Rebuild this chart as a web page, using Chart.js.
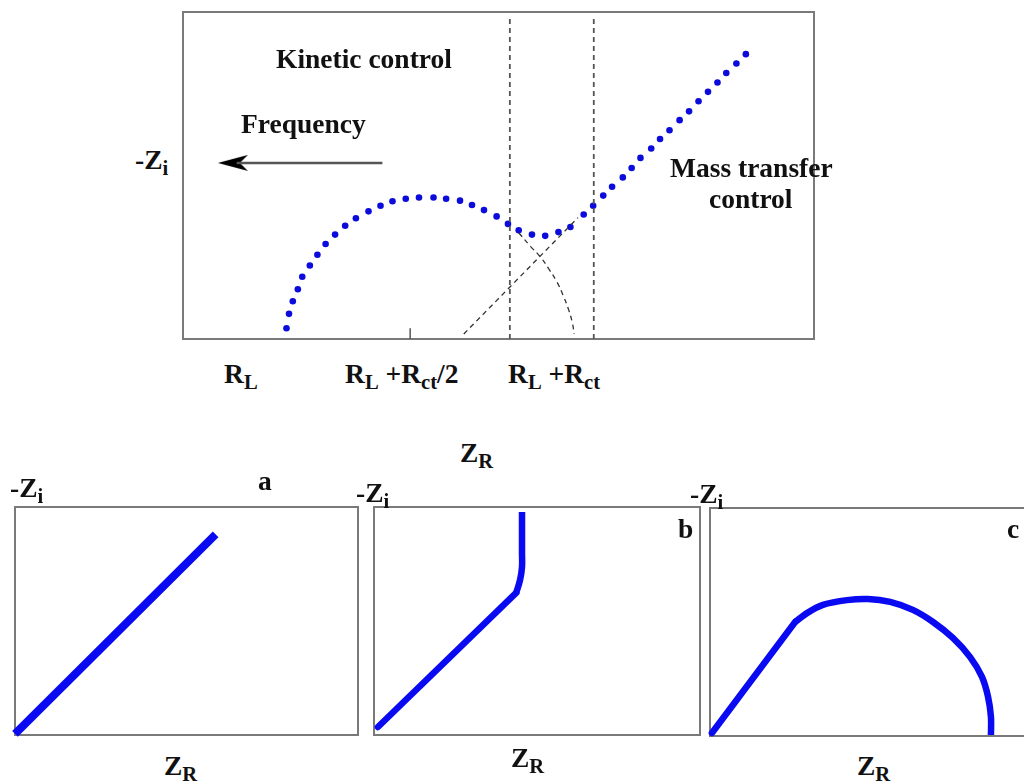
<!DOCTYPE html>
<html>
<head>
<meta charset="utf-8">
<script src="https://cdn.jsdelivr.net/npm/chart.js@4.4.1/dist/chart.umd.min.js"></script>
<style>
  body { margin: 0; width: 1024px; height: 782px; overflow: hidden; background: #fff; position: relative; }
  canvas { position: absolute; }
  .lbl { position: absolute; font: bold 27.5px "Liberation Serif", "DejaVu Serif", serif; line-height: 27px; white-space: nowrap; color: #111; }
  .s { font-size: 0.75em; position: relative; top: 0.3em; }
</style>
</head>
<body>
<canvas id="top"></canvas>
<canvas id="pa"></canvas>
<canvas id="pb"></canvas>
<canvas id="pc"></canvas>

<div class="lbl" style="left:276px;top:45px">Kinetic control</div>
<div class="lbl" style="left:241px;top:110px">Frequency</div>
<div class="lbl" style="left:670px;top:154px">Mass transfer</div>
<div class="lbl" style="left:709px;top:185px">control</div>
<div class="lbl" style="left:135px;top:146px">-Z<span class="s">i</span></div>
<div class="lbl" style="left:224px;top:360px">R<span class="s">L</span></div>
<div class="lbl" style="left:345px;top:360px">R<span class="s">L</span> +R<span class="s">ct</span>/2</div>
<div class="lbl" style="left:508px;top:360px">R<span class="s">L</span> +R<span class="s">ct</span></div>
<div class="lbl" style="left:460px;top:439px">Z<span class="s">R</span></div>

<div class="lbl" style="left:10px;top:474px">-Z<span class="s">i</span></div>
<div class="lbl" style="left:258px;top:467px">a</div>
<div class="lbl" style="left:164px;top:752px">Z<span class="s">R</span></div>
<div class="lbl" style="left:356px;top:479px">-Z<span class="s">i</span></div>
<div class="lbl" style="left:678px;top:515px">b</div>
<div class="lbl" style="left:511px;top:744px">Z<span class="s">R</span></div>
<div class="lbl" style="left:690px;top:480px">-Z<span class="s">i</span></div>
<div class="lbl" style="left:1007px;top:515px">c</div>
<div class="lbl" style="left:857px;top:752px">Z<span class="s">R</span></div>

<script>
// top Nyquist plot (x 0-100, y 0-52)
var dotX = [16.4, 16.8, 17.4, 18.2, 18.9, 20.1, 21.3, 22.6, 24.1, 25.7, 27.4, 29.4, 31.3, 33.2, 35.3, 37.4,
            39.7, 41.7, 43.9, 45.8, 47.7, 49.7, 51.5, 53.2, 55.3, 57.4, 59.5, 61.4, 63.5, 65.0, 66.6, 68.0,
            69.7, 71.1, 72.5, 74.2, 75.6, 77.1, 78.7, 80.2, 81.7, 83.2, 84.7, 86.1, 87.7, 89.2];
var dotY = [1.7, 4.0, 6.0, 7.9, 9.9, 11.7, 13.4, 15.1, 16.6, 18.0, 19.2, 20.3, 21.2, 21.9, 22.3, 22.5,
            22.5, 22.3, 22.0, 21.3, 20.5, 19.5, 18.3, 17.3, 16.6, 16.4, 17.0, 17.8, 19.8, 21.2, 22.8, 24.2,
            25.7, 27.2, 28.8, 30.3, 31.8, 33.2, 34.8, 36.2, 37.8, 39.3, 40.8, 42.3, 43.8, 45.3];
var guideX = [51.8, 65.1];
var guideTop = 51;
var tangentX = [44.5, 62.6];
var tangentY = [0.8, 19.3];
var arcTailX = [53.2, 55.1, 56.6, 58.0, 59.3, 60.3, 61.1, 61.7, 62.0];
var arcTailY = [16.9, 14.7, 13.1, 11.1, 9.0, 6.8, 4.7, 2.6, 0.8];
var tickX = 36.0;
var tickTop = 1.7;
var arrowX = [31.6, 8.5];
var arrowY = [28.0, 28.0];
var arrowHeadX = 7.9;

// small panels (x 0-100, y 0-100)
var aX = [0, 58.5];
var aY = [0.5, 88];
var bLineX = [1.2, 43.6];
var bLineY = [3.5, 62.3];
var bCurveX = [43.6, 44.8, 45.4, 45.4, 45.4];
var bCurveY = [62.3, 68.0, 73.7, 79.8, 97.8];
var cLineX = [0.6, 26.6];
var cLineY = [1.3, 50.0];
var cArcX = [26.6, 30.3, 35.3, 42.8, 49.4, 56.3, 63.4, 69.7, 75.9, 81.3, 85.0, 86.9, 87.8, 87.8];
var cArcY = [50.0, 53.9, 57.5, 59.6, 60.1, 58.8, 55.3, 50.0, 43.0, 34.6, 25.9, 17.1, 8.3, 0.4];

function pts(xs, ys) {
    return xs.map(function(x, i) { return {x: x, y: ys[i]}; });
}

var boxPlugin = {
    id: 'box',
    beforeDatasetsDraw: function(chart) {
        var a = chart.chartArea, ctx = chart.ctx;
        ctx.save();
        ctx.strokeStyle = '#7a7a7a';
        ctx.lineWidth = 2;
        ctx.strokeRect(a.left, a.top, a.right - a.left, a.bottom - a.top);
        ctx.restore();
    }
};

function makeChart(id, left, top, w, h, xmax, ymax, datasets) {
    var cv = document.getElementById(id);
    var pad = 10;
    cv.width = w + 2 * pad;
    cv.height = h + 2 * pad;
    cv.style.left = (left - pad) + 'px';
    cv.style.top = (top - pad) + 'px';
    return new Chart(cv, {
        type: 'scatter',
        data: { datasets: datasets },
        options: {
            responsive: false,
            animation: false,
            events: [],
            layout: { padding: pad },
            plugins: { legend: { display: false }, tooltip: { enabled: false } },
            scales: {
                x: { type: 'linear', min: 0, max: xmax, display: false },
                y: { type: 'linear', min: 0, max: ymax, display: false }
            }
        },
        plugins: [boxPlugin]
    });
}

function dashed(data, width, color, tension) {
    return { data: data, showLine: true, borderColor: color, borderWidth: width,
             borderDash: [5, 4], pointRadius: 0, tension: tension || 0, clip: false };
}

function solid(data, width, tension, cap) {
    return { data: data, showLine: true, borderColor: '#0a0af2', borderWidth: width,
             pointRadius: 0, tension: tension || 0, clip: false,
             borderCapStyle: cap || 'butt', borderJoinStyle: 'round' };
}

// arrow head image
var head = document.createElement('canvas');
head.width = 30; head.height = 18;
var hc = head.getContext('2d');
hc.fillStyle = '#000';
hc.beginPath();
hc.moveTo(0, 9); hc.lineTo(30, 1); hc.lineTo(22, 9); hc.lineTo(30, 17); hc.closePath();
hc.fill();

makeChart('top', 182, 11, 633, 329, 100, 52, [
    dashed(pts([guideX[0], guideX[0]], [0, guideTop]), 1.8, '#555'),
    dashed(pts([guideX[1], guideX[1]], [0, guideTop]), 1.8, '#555'),
    dashed(pts(tangentX, tangentY), 1.3, '#333'),
    dashed(pts(arcTailX, arcTailY), 1.3, '#333', 0.4),
    { data: pts([tickX, tickX], [0, tickTop]), showLine: true, borderColor: '#555', borderWidth: 1.5, pointRadius: 0, clip: false },
    { data: pts(arrowX, arrowY), showLine: true, borderColor: '#555', borderWidth: 2.5, pointRadius: 0, clip: false },
    { data: [{x: arrowHeadX, y: arrowY[0]}], pointStyle: head, pointRadius: 10, clip: false },
    { data: pts(dotX, dotY), showLine: false, pointRadius: 3.3, pointBorderWidth: 0,
      pointBackgroundColor: '#0b0bdc', clip: false }
]);

makeChart('pa', 15, 507, 343, 228, 100, 100, [
    solid(pts(aX, aY), 8)
]);

makeChart('pb', 374, 507, 326, 228, 100, 100, [
    solid(pts(bLineX, bLineY), 6.5, 0, 'round'),
    solid(pts(bCurveX, bCurveY), 6.5, 0.4)
]);

makeChart('pc', 710, 508, 320, 228, 100, 100, [
    solid(pts(cLineX, cLineY), 6.5, 0, 'round'),
    solid(pts(cArcX, cArcY), 6.5, 0.3)
]);
</script>
</body>
</html>
